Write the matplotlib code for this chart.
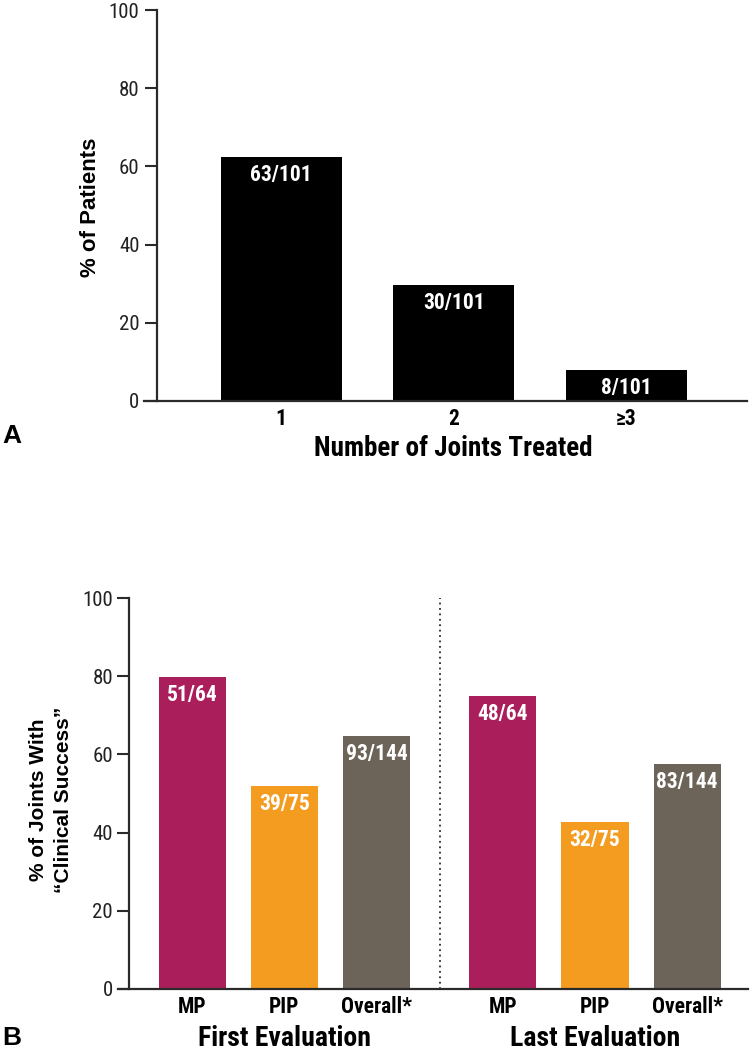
import matplotlib
matplotlib.use("Agg")
import matplotlib.pyplot as plt

# Panel A
a_cats = ["1", "2", "≥3"]
a_vals = [62.4, 29.7, 7.9]
a_text = ["63/101", "30/101", "8/101"]

# Panel B
b_cats = ["MP", "PIP", "Overall*", "MP", "PIP", "Overall*"]
b_vals = [79.7, 52.0, 64.6, 75.0, 42.7, 57.6]
b_text = ["51/64", "39/75", "93/144", "48/64", "32/75", "83/144"]
b_groups = ["First Evaluation", "Last Evaluation"]

NARROW = ["Roboto Condensed", "DejaVu Sans"]
WIDE = ["Liberation Sans", "DejaVu Sans"]
AXC = "#2a2a2a"
c_mp, c_pip, c_all = "#AA1F5B", "#F49C20", "#6C6359"

W, H = 750, 1051
fig = plt.figure(figsize=(W / 100, H / 100), dpi=100)


def px_axes(x0, y0, x1, y1):
    return fig.add_axes([x0 / W, 1 - y1 / H, (x1 - x0) / W, (y1 - y0) / H])


def style(ax, spine_x, ypad):
    for s in ["top", "right"]:
        ax.spines[s].set_visible(False)
    ax.spines["left"].set_position(("data", spine_x))
    for s in ["left", "bottom"]:
        ax.spines[s].set_color(AXC)
        ax.spines[s].set_linewidth(1.6)
    ax.set_ylim(0, 100)
    ax.set_yticks(range(0, 101, 20))
    ax.tick_params(axis="y", length=8.6, width=1.5, color=AXC, pad=ypad)
    ax.tick_params(axis="x", length=0, pad=5)
    for t in ax.get_yticklabels():
        t.set_fontfamily(NARROW)
        t.set_fontsize(15)
        t.set_color("#222222")
    for t in ax.get_xticklabels():
        t.set_fontfamily(NARROW)
        t.set_fontsize(15.5)
        t.set_fontweight("bold")


def bar_labels(ax, bars, texts):
    for b, t in zip(bars, texts):
        ax.annotate(t, (b.get_x() + b.get_width() / 2, b.get_height()),
                    xytext=(0, -5), textcoords="offset points", ha="center",
                    va="top", color="white", fontsize=15.5, fontweight="bold",
                    family=NARROW)


# ---- A ----
axA = px_axes(144, 10, 747, 401)
xa = [0, 1, 2]
bars = axA.bar(xa, a_vals, width=0.70, color="black")
axA.set_xlim(-0.795, 2.70)
axA.set_xticks(xa)
axA.set_xticklabels(a_cats)
style(axA, -0.72, 4)
bar_labels(axA, bars, a_text)
fig.text(91 / W, 1 - 207 / H, "% of Patients", rotation=90, fontsize=16,
         fontweight="bold", family=WIDE, ha="center", va="center")
axA.annotate("Number of Joints Treated", (1, 0),
             xycoords=("data", "axes fraction"), xytext=(0, -34),
             textcoords="offset points", ha="center", va="center",
             fontsize=19.5, fontweight="bold", family=NARROW)
fig.text(2 / W, 1 - 436 / H, "A", fontsize=19, fontweight="bold",
         family=WIDE, va="center", ha="left")

# ---- B ----
axB = px_axes(118, 598, 748, 989)
xb = [0, 1, 2, 3.37, 4.37, 5.37]
colors = [c_mp, c_pip, c_all, c_mp, c_pip, c_all]
bars = axB.bar(xb, b_vals, width=0.73, color=colors)
axB.set_xlim(-0.805, 6.03)
axB.set_xticks(xb)
axB.set_xticklabels(b_cats)
style(axB, -0.685, 3)
axB.axvline((2 + 3.37) / 2, ymin=0, ymax=1, color=AXC, lw=1.3,
            ls=(0, (1, 2)))
bar_labels(axB, bars, b_text)
fig.text(51 / W, 1 - 800 / H, "% of Joints With\n\u201cClinical Success\u201d",
         rotation=90, fontsize=15, fontweight="bold", family=WIDE,
         ha="center", va="center", multialignment="center", linespacing=1.35)
for g, xc in zip(b_groups, [1, 4.37]):
    axB.annotate(g, (xc, 0), xycoords=("data", "axes fraction"),
                 xytext=(0, -36), textcoords="offset points", ha="center",
                 va="center", fontsize=20, fontweight="bold", family=NARROW)
fig.text(2 / W, 1 - 1038 / H, "B", fontsize=19, fontweight="bold",
         family=WIDE, va="center", ha="left")

fig.savefig("out.png", dpi=100)
